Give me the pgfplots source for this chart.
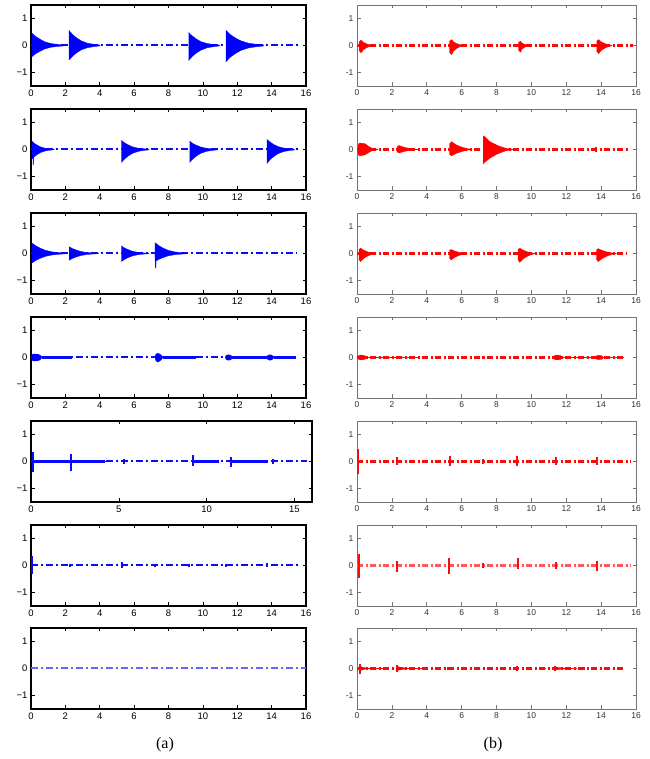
\documentclass[border=0pt]{standalone}
\usepackage{fontspec}
\setmainfont{Liberation Sans}
\newfontfamily\capfont{Liberation Serif}
\usepackage{pgfplots}
\pgfplotsset{compat=1.18}
\definecolor{pblue}{RGB}{10,10,250}
\definecolor{pred}{RGB}{250,10,10}
\begin{document}
\begin{tikzpicture}
\pgfplotsset{
 base/.style={scale only axis, height=81pt, xmin=0, xmax=16, ymin=-1.5, ymax=1.5, ytick={-1,0,1},
   tick align=inside, major tick length=3.5pt, /pgf/number format/assume math mode=true,
   anchor=south west, unbounded coords=jump},
 L/.style={base, width=275pt, xtick={0,2,...,16}, yticklabels={−1,0,1},
   axis line style={black, line width=1.1pt}, tick style={black, line width=0.6pt},
   ticklabel style={font=\fontsize{9.5}{10}\selectfont}},
 R/.style={base, width=279pt, xtick={0,2,...,16}, yticklabels={-1,0,1},
   axis line style={black!55, line width=0.8pt}, tick style={black!55, line width=0.6pt},
   ticklabel style={font=\fontsize{8.5}{9}\selectfont, text=black!80}},
 dashline/.style={line width=2pt, dash pattern=on 7pt off 3pt on 2pt off 3pt, mark=none},
 dashthin/.style={line width=2.1pt, dash pattern=on 6pt off 2.5pt on 2pt off 2.5pt, mark=none},
 solidthick/.style={line width=2.2pt, mark=none},
 solidthin/.style={line width=1.9pt, mark=none},
 burstfill/.style={line width=0.3pt, mark=none},
 spikeb/.style={ycomb, line width=2pt, mark=none},
 spiker/.style={ycomb, line width=1.9pt, mark=none},
}
\path[use as bounding box] (0,0) rectangle (649pt,759pt);

% ---------------- left column ----------------
\begin{axis}[L, at={(31pt,673pt)}]
\addplot[pblue, dashline] coordinates {(0,0) (15.7,0)};
\addplot[blue, fill=blue, burstfill] coordinates {(0.03,0.475)(0.26,0.34)(0.51,0.24)(0.79,0.14)(1.17,0.07)(1.55,0.04)(1.93,0.015)(1.93,-0.015)(1.55,-0.035)(1.17,-0.065)(0.79,-0.13)(0.51,-0.22)(0.26,-0.31)(0.03,-0.43)};
\addplot[blue, fill=blue, burstfill] coordinates {(2.21,0.56)(2.43,0.40)(2.66,0.28)(2.93,0.17)(3.29,0.084)(3.65,0.045)(4.01,0.017)(4.01,-0.016)(3.65,-0.043)(3.29,-0.081)(2.93,-0.16)(2.66,-0.27)(2.43,-0.39)(2.21,-0.54)};
\addplot[blue, fill=blue, burstfill] coordinates {(9.17,0.48)(9.39,0.35)(9.62,0.24)(9.89,0.14)(10.25,0.072)(10.61,0.038)(10.97,0.014)(10.97,-0.017)(10.61,-0.045)(10.25,-0.084)(9.89,-0.17)(9.62,-0.28)(9.39,-0.40)(9.17,-0.56)};
\addplot[blue, fill=blue, burstfill] coordinates {(11.34,0.56)(11.60,0.40)(11.89,0.28)(12.22,0.17)(12.66,0.084)(13.10,0.045)(13.54,0.017)(13.54,-0.018)(13.10,-0.048)(12.66,-0.09)(12.22,-0.18)(11.89,-0.30)(11.60,-0.43)(11.34,-0.60)};
\end{axis}

\begin{axis}[L, at={(31pt,569pt)}]
\addplot[pblue, dashline] coordinates {(0,0) (15.7,0)};
\addplot[blue, fill=blue, burstfill] coordinates {(0.05,0.31)(0.21,0.22)(0.38,0.155)(0.57,0.093)(0.83,0.047)(1.09,0.025)(1.35,0.01)(1.35,-0.011)(1.09,-0.029)(0.83,-0.054)(0.57,-0.108)(0.38,-0.18)(0.21,-0.26)(0.05,-0.36)};
\addplot[blue, fill=blue, burstfill] coordinates {(0.1,0)(0.16,0)(0.15,-0.56)(0.11,-0.56)};
\addplot[blue, fill=blue, burstfill] coordinates {(5.26,0.34)(5.45,0.245)(5.66,0.17)(5.90,0.10)(6.22,0.05)(6.54,0.027)(6.86,0.01)(6.86,-0.014)(6.54,-0.038)(6.22,-0.072)(5.90,-0.144)(5.66,-0.24)(5.45,-0.35)(5.26,-0.48)};
\addplot[blue, fill=blue, burstfill] coordinates {(9.23,0.31)(9.42,0.22)(9.63,0.155)(9.87,0.093)(10.19,0.047)(10.51,0.025)(10.83,0.01)(10.83,-0.014)(10.51,-0.038)(10.19,-0.072)(9.87,-0.144)(9.63,-0.24)(9.42,-0.35)(9.23,-0.48)};
\addplot[blue, fill=blue, burstfill] coordinates {(13.73,0.37)(13.92,0.27)(14.13,0.185)(14.37,0.11)(14.69,0.055)(15.01,0.03)(15.33,0.011)(15.33,-0.016)(15.01,-0.042)(14.69,-0.078)(14.37,-0.156)(14.13,-0.26)(13.92,-0.37)(13.73,-0.52)};
\end{axis}

\begin{axis}[L, at={(31pt,465pt)}]
\addplot[pblue, dashline] coordinates {(0,0) (15.5,0)};
\addplot[blue, fill=blue, burstfill] coordinates {(0.03,0.4)(0.27,0.29)(0.53,0.2)(0.83,0.12)(1.23,0.06)(1.63,0.032)(2.03,0.012)(2.03,-0.011)(1.63,-0.029)(1.23,-0.054)(0.83,-0.108)(0.53,-0.18)(0.27,-0.26)(0.03,-0.36)};
\addplot[blue, fill=blue, burstfill] coordinates {(2.22,0.25)(2.42,0.18)(2.65,0.125)(2.90,0.075)(3.24,0.038)(3.58,0.02)(3.92,0.008)(3.92,-0.008)(3.58,-0.02)(3.24,-0.038)(2.90,-0.075)(2.65,-0.125)(2.42,-0.18)(2.22,-0.25)};
\addplot[blue, fill=blue, burstfill] coordinates {(5.26,0.28)(5.45,0.2)(5.66,0.14)(5.90,0.084)(6.22,0.042)(6.54,0.022)(6.86,0.008)(6.86,-0.009)(6.54,-0.024)(6.22,-0.045)(5.90,-0.09)(5.66,-0.15)(5.45,-0.216)(5.26,-0.3)};
\addplot[blue, fill=blue, burstfill] coordinates {(7.21,0.4)(7.44,0.29)(7.69,0.2)(7.97,0.12)(8.35,0.06)(8.73,0.032)(9.11,0.012)(9.11,-0.009)(8.73,-0.024)(8.35,-0.045)(7.97,-0.09)(7.69,-0.15)(7.44,-0.216)(7.21,-0.3)};
\addplot[blue, fill=blue, burstfill] coordinates {(7.21,0)(7.28,0)(7.27,-0.54)(7.23,-0.54)};
\end{axis}

\begin{axis}[L, at={(31pt,361pt)}]
\addplot[pblue, dashline] coordinates {(0,0) (15.4,0)};
\addplot[pblue, solidthick] coordinates {(0.62,0)(2.4,0)(3,nan)(7.66,0)(9.6,0)(10,nan)(11.72,0)(13.72,0)(13.9,nan)(14.12,0)(15.4,0)};
\addplot[blue, fill=blue, burstfill] coordinates {(0.02,0)(0.05,0.1)(0.15,0.13)(0.4,0.12)(0.55,0.08)(0.62,0)(0.55,-0.08)(0.4,-0.12)(0.15,-0.13)(0.05,-0.1)};
\addplot[blue, fill=blue, burstfill] coordinates {(7.2,0)(7.25,0.1)(7.35,0.16)(7.5,0.13)(7.6,0.07)(7.66,0)(7.6,-0.07)(7.5,-0.13)(7.35,-0.17)(7.25,-0.1)};
\addplot[blue, fill=blue, burstfill] coordinates {(11.3,0)(11.34,0.07)(11.45,0.1)(11.6,0.09)(11.68,0.05)(11.72,0)(11.68,-0.05)(11.6,-0.09)(11.45,-0.1)(11.34,-0.07)};
\addplot[blue, fill=blue, burstfill] coordinates {(13.72,0)(13.76,0.07)(13.87,0.1)(14.0,0.09)(14.08,0.05)(14.12,0)(14.08,-0.05)(14.0,-0.09)(13.87,-0.1)(13.76,-0.07)};
\end{axis}

\begin{axis}[L, width=281pt, xtick={0,5,10,15}, at={(31pt,257pt)}]
\addplot[pblue, dashline] coordinates {(0,0) (15.7,0)};
\addplot[pblue, solidthick] coordinates {(0,0)(4.2,0)(5,nan)(9.2,0)(10.7,0)(11,nan)(11.4,0)(13.5,0)};
\addplot[pblue, spikeb] coordinates {(0.1,0.34)(1.85,0.04)(2.29,0.28)(4.2,0.03)(5.32,0.1)(7.2,0.03)(9.22,0.24)(11.38,0.18)(13.76,0.1)};
\addplot[pblue, spikeb] coordinates {(0.1,-0.39)(1.85,-0.04)(2.29,-0.37)(4.2,-0.03)(5.32,-0.08)(7.2,-0.03)(9.22,-0.18)(11.38,-0.22)(13.76,-0.1)};
\end{axis}

\begin{axis}[L, at={(31pt,153pt)}]
\addplot[pblue, dashline] coordinates {(0,0) (15.6,0)};
\addplot[pblue, spikeb] coordinates {(0.05,0.37)(2.26,0.05)(5.3,0.12)(7.2,0.05)(9.19,0.07)(11.35,0.05)(13.71,0.08)};
\addplot[pblue, spikeb] coordinates {(0.05,-0.3)(2.26,-0.05)(5.3,-0.1)(7.2,-0.04)(9.19,-0.06)(11.35,-0.05)(13.71,-0.07)};
\end{axis}

\begin{axis}[L, at={(31pt,50pt)}]
\addplot[blue!60, dashline] coordinates {(0,0) (16,0)};
\end{axis}

% ---------------- right column ----------------
\begin{axis}[R, at={(357pt,673pt)}]
\addplot[pred, dashthin] coordinates {(0,0) (15.85,0)};
\addplot[red, fill=red, burstfill] coordinates {(0.12,0.14)(0.24,0.2)(0.36,0.12)(0.56,0.06)(0.76,0.02)(0.92,0.005)(0.92,-0.005)(0.76,-0.027)(0.56,-0.08)(0.36,-0.16)(0.24,-0.27)(0.12,-0.19)};
\addplot[red, fill=red, burstfill] coordinates {(5.3,0.154)(5.42,0.22)(5.54,0.132)(5.74,0.066)(5.94,0.022)(6.1,0.005)(6.1,-0.005)(5.94,-0.034)(5.74,-0.1)(5.54,-0.2)(5.42,-0.34)(5.3,-0.24)};
\addplot[red, fill=red, burstfill] coordinates {(9.26,0.11)(9.38,0.16)(9.44,0.1)(9.59,0.048)(9.74,0.016)(9.86,0.004)(9.86,-0.004)(9.74,-0.025)(9.59,-0.075)(9.44,-0.15)(9.38,-0.25)(9.26,-0.175)};
\addplot[red, fill=red, burstfill] coordinates {(13.74,0.154)(13.86,0.22)(14.01,0.132)(14.24,0.066)(14.46,0.022)(14.64,0.005)(14.64,-0.005)(14.46,-0.03)(14.24,-0.09)(14.01,-0.18)(13.86,-0.3)(13.74,-0.21)};
\end{axis}

\begin{axis}[R, at={(357pt,569pt)}]
\addplot[pred, dashthin] coordinates {(0,0) (15.55,0)};
\addplot[red, fill=red, burstfill] coordinates {(0.05,0.18)(0.15,0.24)(0.45,0.22)(0.65,0.12)(0.85,0.05)(1.2,0.01)(1.2,-0.01)(0.85,-0.05)(0.65,-0.12)(0.45,-0.2)(0.15,-0.24)(0.05,-0.18)};
\addplot[red, fill=red, burstfill] coordinates {(2.3,0.105)(2.42,0.15)(2.66,0.09)(2.96,0.045)(3.26,0.015)(3.5,0.004)(3.5,-0.004)(3.26,-0.013)(2.96,-0.04)(2.66,-0.08)(2.42,-0.13)(2.3,-0.09)};
\addplot[red, fill=red, burstfill] coordinates {(5.3,0.2)(5.42,0.29)(5.69,0.17)(6.02,0.087)(6.34,0.03)(6.6,0.006)(6.6,-0.006)(6.34,-0.024)(6.02,-0.072)(5.69,-0.144)(5.42,-0.24)(5.3,-0.17)};
\addplot[red, fill=red, burstfill] coordinates {(7.23,0.45)(7.28,0.51)(7.6,0.3)(8.05,0.15)(8.5,0.05)(8.93,0.01)(8.93,-0.01)(8.5,-0.055)(8.05,-0.165)(7.6,-0.33)(7.28,-0.5)(7.23,-0.55)};
\addplot[pred, spiker] coordinates {(13.7,0.1)};
\addplot[pred, spiker] coordinates {(13.7,-0.1)};
\end{axis}

\begin{axis}[R, at={(357pt,465pt)}]
\addplot[pred, dashthin] coordinates {(0,0) (15.4,0)};
\addplot[red, fill=red, burstfill] coordinates {(0.1,0.14)(0.2,0.2)(0.39,0.12)(0.62,0.06)(0.86,0.02)(1.05,0.005)(1.05,-0.005)(0.86,-0.03)(0.62,-0.09)(0.39,-0.18)(0.2,-0.3)(0.1,-0.21)};
\addplot[red, fill=red, burstfill] coordinates {(5.3,0.105)(5.4,0.15)(5.6,0.09)(5.85,0.045)(6.1,0.015)(6.3,0.004)(6.3,-0.004)(6.1,-0.024)(5.85,-0.072)(5.6,-0.144)(5.4,-0.24)(5.3,-0.17)};
\addplot[red, fill=red, burstfill] coordinates {(9.23,0.14)(9.33,0.2)(9.53,0.12)(9.78,0.06)(10.03,0.02)(10.23,0.005)(10.23,-0.005)(10.03,-0.033)(9.78,-0.1)(9.53,-0.2)(9.33,-0.33)(9.23,-0.23)};
\addplot[red, fill=red, burstfill] coordinates {(13.73,0.126)(13.83,0.18)(14.08,0.108)(14.36,0.054)(14.65,0.018)(14.88,0.004)(14.88,-0.004)(14.65,-0.03)(14.36,-0.09)(14.08,-0.18)(13.83,-0.3)(13.73,-0.21)};
\end{axis}

\begin{axis}[R, at={(357pt,361pt)}]
\addplot[pred, dashthin] coordinates {(0,0) (15.3,0)};
\addplot[pred, solidthin] coordinates {(0.55,0)(3.6,0)(4,nan)(11.77,0)(13.7,0)(13.9,nan)(14.13,0)(15.3,0)};
\addplot[red, fill=red, burstfill] coordinates {(0.05,0)(0.08,0.07)(0.2,0.09)(0.4,0.08)(0.5,0.04)(0.55,0)(0.5,-0.04)(0.4,-0.08)(0.2,-0.09)(0.08,-0.07)};
\addplot[red, fill=red, burstfill] coordinates {(11.27,0)(11.31,0.07)(11.45,0.09)(11.65,0.08)(11.73,0.04)(11.77,0)(11.73,-0.04)(11.65,-0.08)(11.45,-0.09)(11.31,-0.07)};
\addplot[red, fill=red, burstfill] coordinates {(13.7,0)(13.74,0.07)(13.86,0.08)(14.02,0.07)(14.1,0.03)(14.13,0)(14.1,-0.03)(14.02,-0.07)(13.86,-0.08)(13.74,-0.07)};
\addplot[pred, spiker] coordinates {(7.2,0.05)};
\addplot[pred, spiker] coordinates {(7.2,-0.05)};
\end{axis}

\begin{axis}[R, at={(357pt,257pt)}]
\addplot[pred, dashthin] coordinates {(0,0) (15.7,0)};
\addplot[pred, spiker] coordinates {(0.08,0.45)(2.3,0.15)(5.35,0.2)(7.2,0.1)(9.2,0.2)(11.4,0.15)(13.75,0.15)};
\addplot[pred, spiker] coordinates {(0.08,-0.45)(2.3,-0.13)(5.35,-0.18)(7.2,-0.08)(9.2,-0.15)(11.4,-0.12)(13.75,-0.12)};
\end{axis}

\begin{axis}[R, at={(357pt,153pt)}]
\addplot[red!65, dashthin] coordinates {(0,0) (15.7,0)};
\addplot[pred, spiker] coordinates {(0.1,0.43)(2.29,0.16)(5.3,0.27)(7.25,0.1)(9.21,0.28)(11.41,0.12)(13.77,0.18)};
\addplot[pred, spiker] coordinates {(0.1,-0.46)(2.29,-0.24)(5.3,-0.3)(7.25,-0.1)(9.21,-0.12)(11.41,-0.12)(13.77,-0.22)};
\end{axis}

\begin{axis}[R, at={(357pt,50pt)}]
\addplot[pred, dashthin] coordinates {(0,0) (15.3,0)};
\addplot[pred, solidthin] coordinates {(0.3,0)(1.8,0)(2,nan)(2.5,0)(4.0,0)(5,nan)(11.4,0)(12.6,0)};
\addplot[red, fill=red, burstfill] coordinates {(0.15,0.1)(0.3,0.05)(0.6,0.01)(0.6,-0.01)(0.3,-0.05)(0.15,-0.1)};
\addplot[red, fill=red, burstfill] coordinates {(2.3,0.08)(2.5,0.04)(3.0,0.008)(3.0,-0.008)(2.5,-0.04)(2.3,-0.08)};
\addplot[red, fill=red, burstfill] coordinates {(11.36,0.06)(11.6,0.03)(12.2,0.006)(12.2,-0.006)(11.6,-0.03)(11.36,-0.06)};
\addplot[pred, spiker] coordinates {(0.15,0.15)(1.8,0.03)(2.3,0.12)(4.0,0.05)(5.23,0.06)(9.2,0.1)(10.8,0.03)(11.36,0.08)(13.03,0.04)(13.68,0.05)};
\addplot[pred, spiker] coordinates {(0.15,-0.19)(1.8,-0.03)(2.3,-0.12)(4.0,-0.05)(5.23,-0.06)(9.2,-0.1)(10.8,-0.03)(11.36,-0.08)(13.03,-0.04)(13.68,-0.05)};
\end{axis}

\node[font=\capfont\fontsize{16}{18}\selectfont] at (165pt,14pt) {(a)};
\node[font=\capfont\fontsize{16}{18}\selectfont] at (493pt,14pt) {(b)};
\end{tikzpicture}
\end{document}
